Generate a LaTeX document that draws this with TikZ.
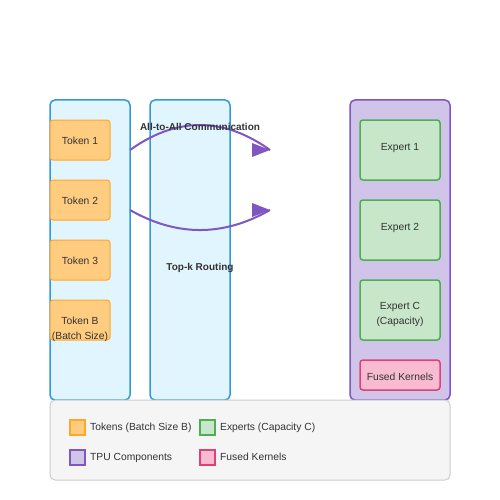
\documentclass[tikz,border=0pt]{standalone}
\usepackage{fontspec}
\setmainfont{Liberation Sans}
\definecolor{colline}{HTML}{3498DB}
\definecolor{colfill}{HTML}{E1F5FE}
\definecolor{tokline}{HTML}{FFA726}
\definecolor{tokfill}{HTML}{FFCC80}
\definecolor{expline}{HTML}{4CAF50}
\definecolor{expfill}{HTML}{C8E6C9}
\definecolor{tpuline}{HTML}{7E57C2}
\definecolor{tpufill}{HTML}{D1C4E9}
\definecolor{fusline}{HTML}{E0407A}
\definecolor{fusfill}{HTML}{F8BBD0}
\definecolor{txtgray}{HTML}{333333}
\tikzset{
  colbox/.style={draw=colline, fill=colfill, line width=1.5pt, rounded corners=5pt, minimum width=80pt, minimum height=300pt},
  tokenbox/.style={draw=tokline, fill=tokfill, line width=1pt, rounded corners=3pt, minimum width=60pt, minimum height=40pt},
  expertbox/.style={draw=expline, fill=expfill, line width=1.5pt, rounded corners=3pt, minimum width=80pt, minimum height=60pt},
  lbl/.style={text=txtgray, font=\fontsize{10.3}{15}\selectfont, inner sep=0pt, align=center},
  keybox/.style={minimum size=15pt, line width=1.5pt, inner sep=0pt},
  flow/.style={draw=tpuline, line width=2pt},
}
\begin{document}
\begin{tikzpicture}[x=1pt,y=-1pt]
\useasboundingbox (0,0) rectangle (500,500);

% columns
\node[colbox] (tokcol) at (90,250) {};
\node[colbox] (routecol) at (190,250) {};
\node[draw=tpuline, fill=tpufill, line width=1.5pt, rounded corners=5pt, minimum width=100pt, minimum height=300pt] (tpucol) at (400,250) {};

% tokens
\node[tokenbox] (tok1) at (80,140) {};
\node[tokenbox] (tok2) at (80,200) {};
\node[tokenbox] (tok3) at (80,260) {};
\node[tokenbox] (tokB) at (80,320) {};
\node[lbl, anchor=base] at (80,144.5) {Token 1};
\node[lbl, anchor=base] at (80,204.5) {Token 2};
\node[lbl, anchor=base] at (80,264.5) {Token 3};
\node[lbl] (tokBtxt) at (80,329.5) {Token B\\(Batch Size)};

% experts
\node[expertbox] (exp1) at (400,150) {};
\node[expertbox] (exp2) at (400,230) {};
\node[expertbox] (expC) at (400,310) {};
\node[draw=fusline, fill=fusfill, line width=1.5pt, rounded corners=3pt, minimum width=80pt, minimum height=30pt] (fused) at (400,375) {};
\node[lbl, anchor=base] at (400,150) {Expert 1};
\node[lbl, anchor=base] at (400,230) {Expert 2};
\node[lbl] (expCtxt) at (400,314.5) {Expert C\\(Capacity)};
\node[lbl, anchor=base] at (400,380) {Fused Kernels};

% all-to-all arrows
\coordinate (s1) at (130,150);
\coordinate (a1) at (270,150);
\coordinate (s2) at (130,210);
\coordinate (a2) at (270,210);
\draw[flow] (s1) .. controls (176.7,116.7) and (223.3,116.7) .. (a1);
\draw[flow] (s2) .. controls (176.7,236.7) and (223.3,236.7) .. (a2);
\fill[tpuline] (a1) ++(-18,-7) -- (a1) -- ++(-18,7) -- cycle;
\fill[tpuline] (a2) ++(-18,-7) -- (a2) -- ++(-18,7) -- cycle;

\node[lbl, anchor=base, font=\fontsize{10}{12}\selectfont\bfseries] (a2a) at (200,130) {All-to-All Communication};
\node[lbl, anchor=base, font=\fontsize{10}{12}\selectfont\bfseries] (topk) at (200,270) {Top-k Routing};

% legend
\node[draw=black!20, fill=black!4, line width=1pt, rounded corners=5pt, minimum width=400pt, minimum height=80pt] (legend) at (250,440) {};
\node[keybox, draw=tokline, fill=tokfill] (k1) at (77.5,427.5) {};
\node[keybox, draw=expline, fill=expfill] (k2) at (207.5,427.5) {};
\node[keybox, draw=tpuline, fill=tpufill] (k3) at (77.5,457.5) {};
\node[keybox, draw=fusline, fill=fusfill] (k4) at (207.5,457.5) {};
\node[lbl, anchor=base west] at (90,430.5) {Tokens (Batch Size B)};
\node[lbl, anchor=base west] at (220,430.5) {Experts (Capacity C)};
\node[lbl, anchor=base west] at (90,460.5) {TPU Components};
\node[lbl, anchor=base west] at (220,460.5) {Fused Kernels};
\end{tikzpicture}
\end{document}
